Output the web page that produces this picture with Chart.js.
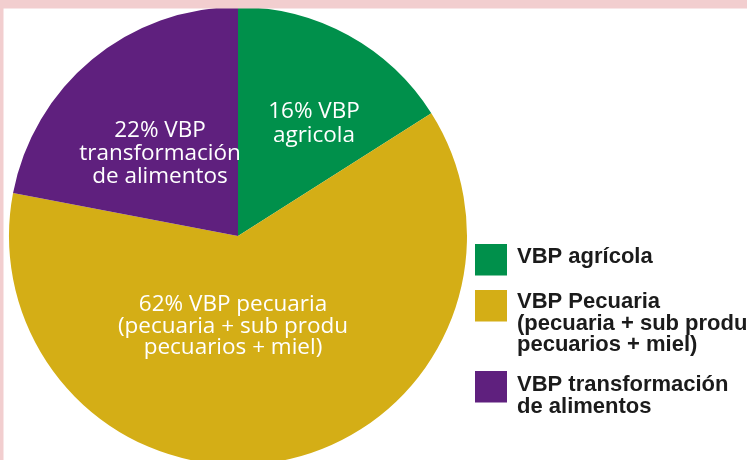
<!DOCTYPE html>
<html>
<head>
<meta charset="utf-8">
<script src="https://cdn.jsdelivr.net/npm/chart.js@4"></script>
<style>
    html, body { margin: 0; padding: 0; background: #ffffff; overflow: hidden; }
    #wrap { position: absolute; left: 0; top: 0; width: 747px; height: 472px; }
</style>
</head>
<body>
<div id="wrap"><canvas id="pie-chart" width="747" height="472"></canvas></div>
<script>
// data
const categories = ["VBP agrícola", "VBP Pecuaria", "VBP transformación de alimentos"]
const shares = [16, 62, 22]
const colors = ["#00904b", "#d4ae16", "#5f207e"]

// text inside the slices
const sliceLabels = [
    ["16% VBP", "agricola"],
    ["62% VBP pecuaria", "(pecuaria + sub produ", "pecuarios + miel)"],
    ["22% VBP", "transformación", "de alimentos"]
]

// text of the legend on the right
const legendLines = [
    ["VBP agrícola"],
    ["VBP Pecuaria", "(pecuaria + sub produ", "pecuarios + miel)"],
    ["VBP transformación", "de alimentos"]
]

// where each slice label sits, relative to the pie centre (dx, first baseline dy, line step)
const sliceLabelPos = [
    { dx: 76, dy: -118, step: 23.5 },
    { dx: -5, dy: 75, step: 21.5 },
    { dx: -78, dy: -99, step: 23 }
]

// legend layout: square top and text baselines
const legendPos = [
    { box: 244, base: [263] },
    { box: 290, base: [308, 330, 351] },
    { box: 371, base: [391, 413] }
]

const extras = {
    id: "extras",
    afterDatasetsDraw(chart) {
        const c = chart.ctx
        const arc = chart.getDatasetMeta(0).data[0]
        const cx = arc.x, cy = arc.y

        c.save()
        c.fillStyle = "#ffffff"
        c.textAlign = "center"
        c.textBaseline = "alphabetic"
        c.font = "22.5px 'Open Sans'"
        sliceLabels.forEach((lines, i) => {
            const p = sliceLabelPos[i]
            lines.forEach((t, j) => {
                c.fillText(t, cx + p.dx, cy + p.dy + j * p.step)
            })
        })

        // legend
        c.textAlign = "left"
        c.font = "bold 22px 'Liberation Sans'"
        legendLines.forEach((lines, i) => {
            const p = legendPos[i]
            c.fillStyle = colors[i]
            c.fillRect(475, p.box, 32, 31.5)
            c.fillStyle = "#1b1b1b"
            lines.forEach((t, j) => c.fillText(t, 517, p.base[j]))
        })

        // pink frame
        c.fillStyle = "#f2cecf"
        c.fillRect(0, 0, 747, 8.5)
        c.fillRect(0, 0, 3.5, 472)
        c.restore()
    }
}

const ctx = document.getElementById("pie-chart").getContext("2d")
const myChart = new Chart(ctx, {
    type: "pie",
    data: {
        labels: categories,
        datasets: [{
            data: shares,
            backgroundColor: colors,
            borderWidth: 0
        }]
    },
    options: {
        responsive: false,
        animation: false,
        layout: {
            padding: { left: 9, right: 280, top: 7, bottom: 7 }
        },
        plugins: {
            legend: { display: false },
            tooltip: { enabled: false }
        }
    },
    plugins: [extras]
})
</script>
</body>
</html>
